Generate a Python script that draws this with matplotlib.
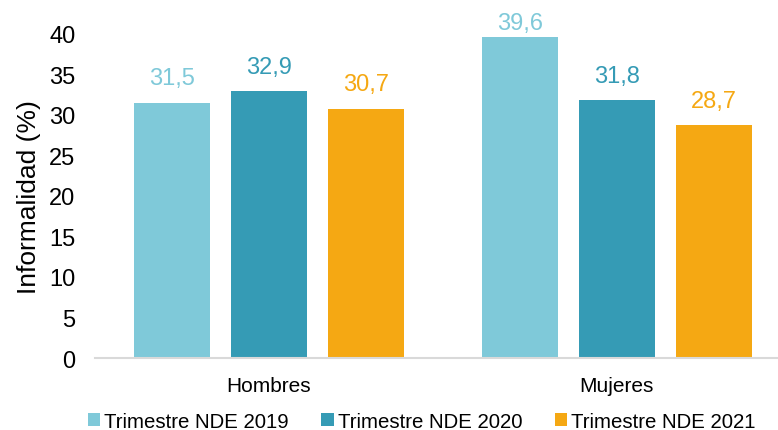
import matplotlib
matplotlib.use("Agg")
import matplotlib.pyplot as plt
import numpy as np

plt.rcParams['font.family'] = ['Liberation Sans', 'DejaVu Sans']

categories = ["Hombres", "Mujeres"]
series_names = ["Trimestre NDE 2019", "Trimestre NDE 2020", "Trimestre NDE 2021"]
values_2019 = [31.5, 39.6]
values_2020 = [32.9, 31.8]
values_2021 = [30.7, 28.7]
colors = ["#7FC9D9", "#359BB5", "#F5A813"]
yticks = [0, 5, 10, 15, 20, 25, 30, 35, 40]

fig = plt.figure(figsize=(7.78, 4.31), dpi=100)
ax = fig.add_axes([0.122, 0.167, 0.878, 0.752])

x = np.arange(len(categories))
width = 0.218
step = 0.279
for i, (vals, name, c) in enumerate(zip([values_2019, values_2020, values_2021], series_names, colors)):
    pos = x + (i - 1) * step
    bars = ax.bar(pos, vals, width, color=c, label=name, zorder=2)
    for b, v in zip(bars, vals):
        ax.text(b.get_x() + b.get_width() / 2, min(v + 1.7, 40.0), f"{v:.1f}".replace(".", ","),
                ha="center", va="bottom", color=c, fontsize=17, clip_on=False)

ax.set_xlim(-0.5, 1.463)
ax.set_ylim(0, 40)
ax.set_yticks(yticks)
ax.set_yticklabels([str(t) for t in yticks], fontsize=17)
ax.set_xticks(x)
ax.set_xticklabels(categories, fontsize=15)
ax.set_ylabel("Informalidad (%)", fontsize=19, labelpad=6)
for s in ["top", "right", "left"]:
    ax.spines[s].set_visible(False)
ax.spines["bottom"].set_color("#D9D9D9")
ax.spines["bottom"].set_linewidth(1.5)
ax.tick_params(axis="both", length=0)
ax.tick_params(axis="x", pad=13)
ax.tick_params(axis="y", pad=14)

leg = fig.legend(loc="lower center", bbox_to_anchor=(0.542, -0.045), ncol=3, frameon=False,
                 fontsize=14.7, handlelength=0.6, handleheight=0.6, handletextpad=0.2,
                 columnspacing=1.6)

fig.savefig("out.png", dpi=100)
